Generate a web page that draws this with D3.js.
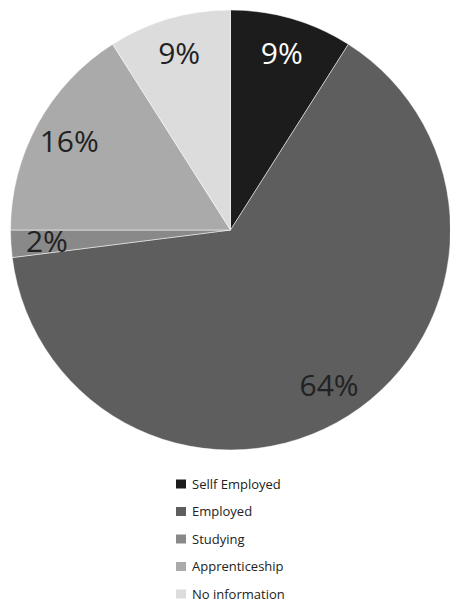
<!DOCTYPE html>
<html>
<head>
<meta charset="utf-8">
<script src="https://cdn.jsdelivr.net/npm/d3@7"></script>
<style>
  body { margin: 0; background: #fff; }
  text { font-family: "Open Sans", sans-serif; }
</style>
</head>
<body>
<div id="chart"></div>
<script>
var svgWidth = 450
var svgHeight = 602

// data
var categories = ["Sellf Employed", "Employed", "Studying", "Apprenticeship", "No information"]
var values = [9, 64, 2, 16, 9]
var colors = ["#1c1c1c", "#5e5e5e", "#898989", "#aaaaaa", "#dcdcdc"]
var labelColors = ["#ffffff", "#222222", "#222222", "#222222", "#222222"]

var svg = d3.select("#chart").append("svg").attr("width", svgWidth).attr("height", svgHeight)

var cx = 230.5
var cy = 230
var radius = 220

var pieGroup = svg.append("g").attr("transform", `translate(${cx}, ${cy})`)

var pie = d3.pie().sort(null).value(d => d)
var arcs = pie(values)

var arc = d3.arc().innerRadius(0).outerRadius(radius)
var labelArc = d3.arc().innerRadius(184).outerRadius(184)

pieGroup.selectAll("path")
    .data(arcs)
    .enter()
    .append("path")
    .attr("d", arc)
    .attr("fill", (d, i) => colors[i])
    .attr("stroke", "#ffffff")
    .attr("stroke-width", 0.5)

pieGroup.selectAll("text")
    .data(arcs)
    .enter()
    .append("text")
    .attr("transform", d => `translate(${labelArc.centroid(d)})`)
    .attr("text-anchor", "middle")
    .attr("dy", "0.36em")
    .attr("font-size", "30px")
    .attr("fill", (d, i) => labelColors[i])
    .text(d => d.data + "%")

// legend
var legendX = 176
var legendY = 484
var legendStep = 27.5

var legend = svg.selectAll(".legend")
    .data(categories)
    .enter()
    .append("g")
    .attr("class", "legend")
    .attr("transform", (d, i) => `translate(${legendX}, ${legendY + i * legendStep})`)

legend.append("rect")
    .attr("x", 0)
    .attr("y", -4.5)
    .attr("width", 10)
    .attr("height", 9)
    .attr("fill", (d, i) => colors[i])

legend.append("text")
    .attr("x", 16)
    .attr("y", 0)
    .attr("dy", "0.36em")
    .attr("font-size", "13px")
    .attr("fill", "#222222")
    .text(d => d)
</script>
</body>
</html>
